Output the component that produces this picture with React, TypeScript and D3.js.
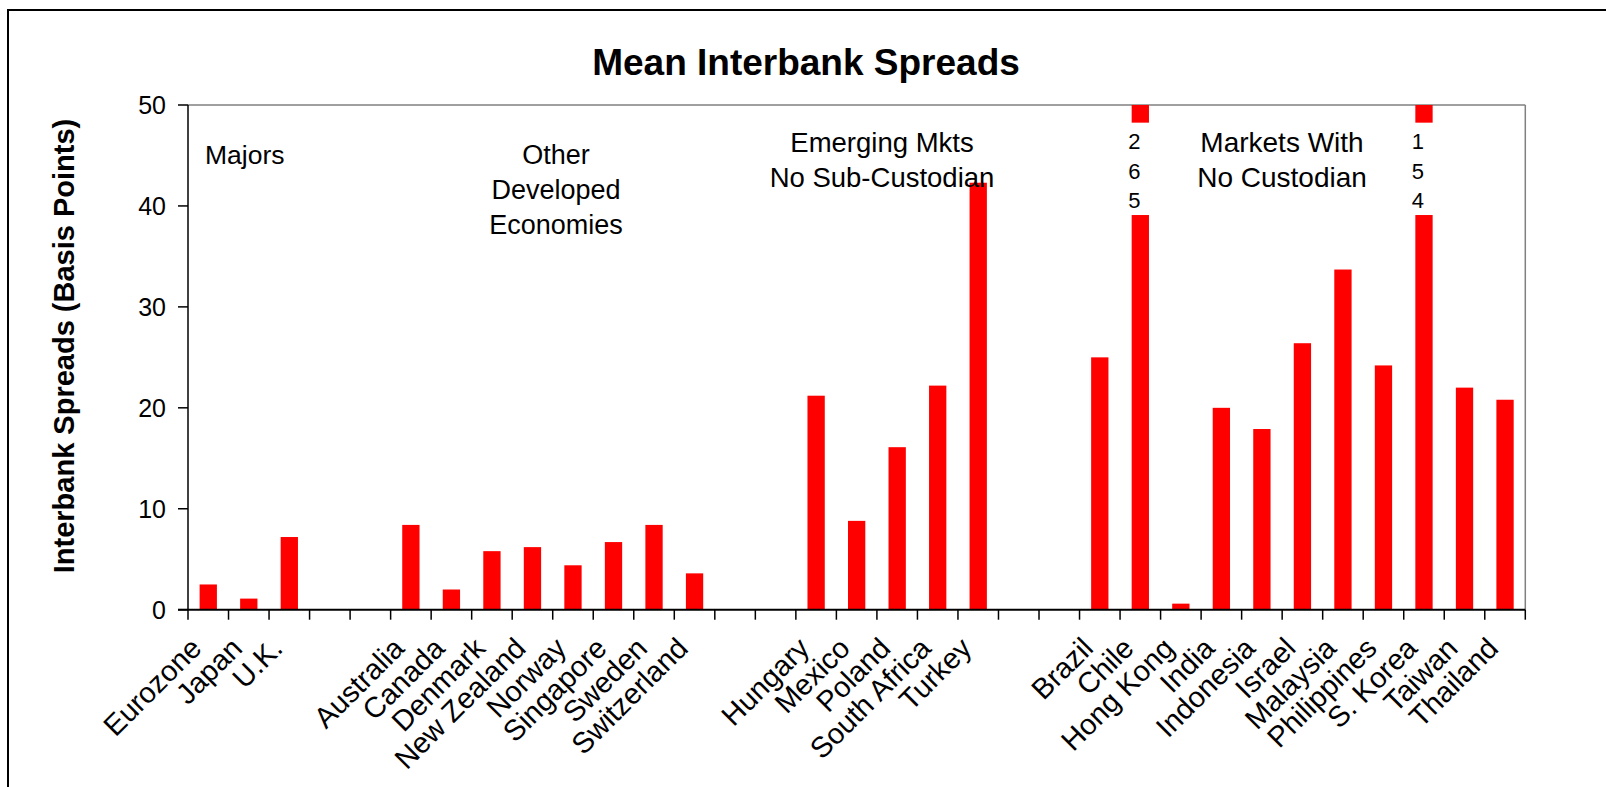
import React from "react";
import * as d3 from "d3";

const categories = [
  "Eurozone", "Japan", "U.K.", "", " ",
  "Australia", "Canada", "Denmark", "New Zealand", "Norway", "Singapore", "Sweden", "Switzerland", "  ", "   ",
  "Hungary", "Mexico", "Poland", "South Africa", "Turkey", "    ", "     ",
  "Brazil", "Chile", "Hong Kong", "India", "Indonesia", "Israel", "Malaysia", "Philippines", "S. Korea", "Taiwan", "Thailand",
];

const spreads: (number | null)[] = [
  2.5, 1.1, 7.2, null, null,
  8.4, 2.0, 5.8, 6.2, 4.4, 6.7, 8.4, 3.6, null, null,
  21.2, 8.8, 16.1, 22.2, 42.3, null, null,
  25.0, 265, 0.6, 20.0, 17.9, 26.4, 33.7, 24.2, 154, 22.0, 20.8,
];

const yTicks = [0, 10, 20, 30, 40, 50];
const yMax = 50;
const breakLow = 39.1;
const breakHigh = 48.25;

const titleText = "Mean Interbank Spreads";
const yAxisTitle = "Interbank Spreads (Basis Points)";
const groupMajors = ["Majors"];
const groupOther = ["Other", "Developed", "Economies"];
const groupEmerging = ["Emerging Mkts", "No Sub-Custodian"];
const groupNoCustodian = ["Markets With", "No Custodian"];

const FONT = "'Liberation Sans', Arial, Helvetica, sans-serif";

export default function App() {
  const W = 1606;
  const H = 787;
  const left = 188;
  const right = 1525.3;
  const top = 105;
  const bottom = 609.7;

  const x = d3.scaleBand<string>().domain(categories).range([left, right]).paddingInner(0).paddingOuter(0);
  const y = d3.scaleLinear().domain([0, yMax]).range([bottom, top]);
  const step = x.step();
  const barW = step * 0.427;

  const boundaries = d3.range(categories.length + 1).map((i) => left + i * step);

  return (
    <svg
      width={W}
      height={H}
      style={{ position: "absolute", left: 0, top: 0, background: "#fff" }}
      fontFamily={FONT}
    >
      <rect x={0} y={0} width={W} height={H} fill="#fff" />
      {/* outer chart frame */}
      <rect x={8} y={10} width={1800} height={1000} fill="none" stroke="#000" strokeWidth={2} />

      {/* title */}
      <text x={806} y={75} textAnchor="middle" fontSize={37} fontWeight="bold" fill="#000">
        {titleText}
      </text>

      {/* plot border (gray) */}
      <line x1={left} x2={right} y1={top} y2={top} stroke="#808080" strokeWidth={1.5} />
      <line x1={right} x2={right} y1={top} y2={bottom} stroke="#808080" strokeWidth={1.5} />

      {/* bars */}
      {categories.map((c, i) => {
        const v = spreads[i];
        if (v == null) return null;
        const bx = (x(c) as number) + (step - barW) / 2;
        const yv = y(Math.min(v, yMax));
        return <rect key={"b" + i} x={bx} y={yv} width={barW} height={bottom - yv} fill="#ff0000" />;
      })}

      {/* broken bars */}
      {categories.map((c, i) => {
        const v = spreads[i];
        if (v == null || v <= yMax) return null;
        const cx = (x(c) as number) + step / 2;
        const bx = cx - barW / 2;
        const digits = String(Math.round(v)).split("");
        return (
          <g key={"br" + i}>
            <rect x={bx - 1} y={y(breakHigh)} width={barW + 2} height={y(breakLow) - y(breakHigh)} fill="#fff" />
            {digits.map((d, k) => (
              <text key={k} x={cx - 6} y={149 + k * 29.7} textAnchor="middle" fontSize={22} fill="#000">
                {d}
              </text>
            ))}
          </g>
        );
      })}

      {/* axes */}
      <line x1={left} x2={left} y1={top} y2={bottom} stroke="#000" strokeWidth={1.5} />
      <line x1={left - 10} x2={right} y1={bottom} y2={bottom} stroke="#000" strokeWidth={2} />
      {yTicks.map((t) => (
        <g key={"yt" + t}>
          <line x1={left - 10} x2={left} y1={y(t)} y2={y(t)} stroke="#000" strokeWidth={1.5} />
          <text x={left - 22} y={y(t) + 9} textAnchor="end" fontSize={25} fill="#000">
            {t}
          </text>
        </g>
      ))}
      {boundaries.map((bx, i) => (
        <line key={"xt" + i} x1={bx} x2={bx} y1={bottom} y2={bottom + 10} stroke="#000" strokeWidth={1.5} />
      ))}

      {/* category labels */}
      {categories.map((c, i) => {
        if (c.trim() === "") return null;
        const cx = (x(c) as number) + step / 2 - 5;
        const ly = 650;
        return (
          <text
            key={"cl" + i}
            x={cx}
            y={ly}
            textAnchor="end"
            fontSize={29}
            fill="#000"
            transform={`rotate(-45 ${cx} ${ly})`}
          >
            {c}
          </text>
        );
      })}

      {/* y-axis title */}
      <text
        x={0}
        y={0}
        transform={`translate(74 346) rotate(-90)`}
        textAnchor="middle"
        fontSize={29}
        fontWeight="bold"
        fill="#000"
      >
        {yAxisTitle}
      </text>

      {/* group annotations */}
      {groupMajors.map((s, k) => (
        <text key={"gm" + k} x={205} y={164 + k * 35} fontSize={26.5} fill="#000">
          {s}
        </text>
      ))}
      {groupOther.map((s, k) => (
        <text key={"go" + k} x={556} y={164 + k * 35} textAnchor="middle" fontSize={27} fill="#000">
          {s}
        </text>
      ))}
      {groupEmerging.map((s, k) => (
        <text key={"ge" + k} x={882} y={151.5 + k * 35.5} textAnchor="middle" fontSize={27.5} fill="#000">
          {s}
        </text>
      ))}
      {groupNoCustodian.map((s, k) => (
        <text key={"gn" + k} x={1282} y={151.5 + k * 35.5} textAnchor="middle" fontSize={28} fill="#000">
          {s}
        </text>
      ))}
    </svg>
  );
}
